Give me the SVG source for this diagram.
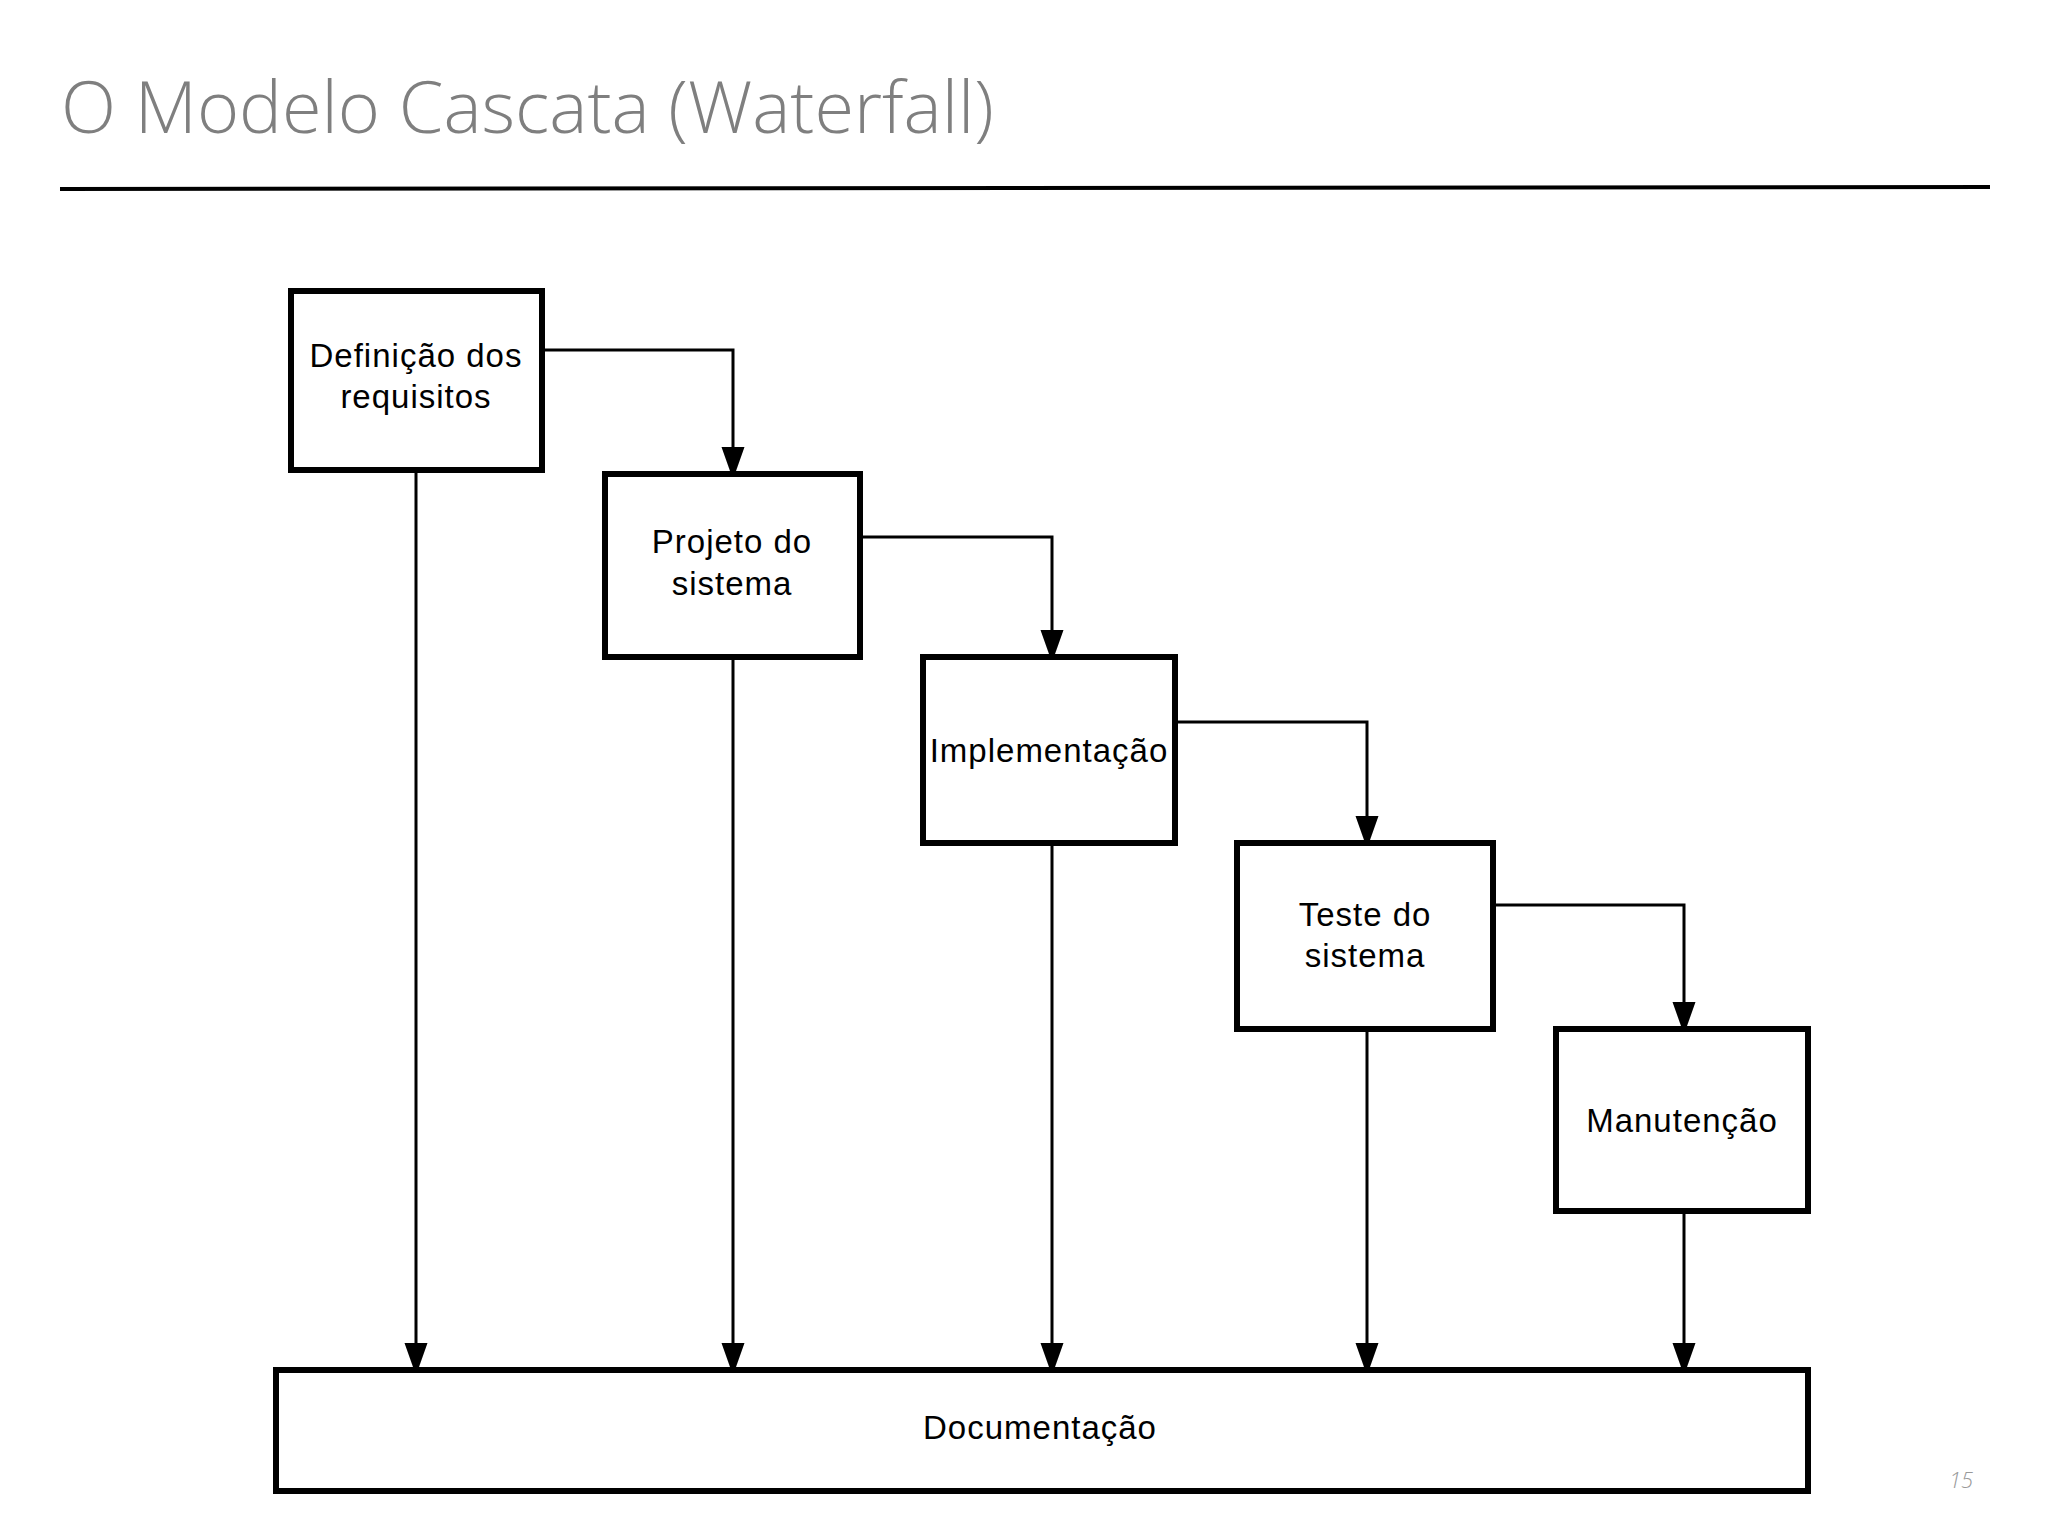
<svg xmlns="http://www.w3.org/2000/svg" width="2048" height="1536" viewBox="0 0 2048 1536">
  <defs>
    <marker id="arrow" markerUnits="userSpaceOnUse" markerWidth="26" markerHeight="26" viewBox="0 -13 26 26" refX="24" refY="0" orient="auto">
      <path d="M0,-11.5 L24,-3 L24,3 L0,11.5 Z" fill="#000"/>
    </marker>
    <style>
      .box { fill: #fff; stroke: #000; stroke-width: 6; }
      .lbl { font-family: "Liberation Sans", Arial, sans-serif; font-size: 33px; letter-spacing: 1px; fill: #000; text-anchor: middle; }
      .conn { fill: none; stroke: #000; stroke-width: 3; marker-end: url(#arrow); }
      .title { font-family: "Open Sans", "Liberation Sans", sans-serif; font-weight: 300; font-size: 72px; fill: #7f7f7f; }
      .pgnum { font-family: "Open Sans", "Liberation Sans", sans-serif; font-weight: 300; font-style: italic; font-size: 22px; fill: #999; }
    </style>
  </defs>
  <rect x="0" y="0" width="2048" height="1536" fill="#fff"/>

  <g id="header">
    <text class="title" x="61" y="133">O Modelo Cascata (Waterfall)</text>
    <line x1="60" y1="189" x2="1990" y2="187" stroke="#000" stroke-width="4"/>
  </g>

  <g id="connectors">
    <path class="conn" d="M545,350 H733 V471"/>
    <path class="conn" d="M863,537 H1052 V654"/>
    <path class="conn" d="M1178,722 H1367 V840"/>
    <path class="conn" d="M1496,905 H1684 V1026"/>
    <path class="conn" d="M416,473 V1367"/>
    <path class="conn" d="M733,660 V1367"/>
    <path class="conn" d="M1052,846 V1367"/>
    <path class="conn" d="M1367,1032 V1367"/>
    <path class="conn" d="M1684,1214 V1367"/>
  </g>

  <g id="node-requisitos">
    <rect class="box" x="291" y="291" width="251" height="179"/>
    <text class="lbl" x="416" y="367">Definição dos</text>
    <text class="lbl" x="416" y="408">requisitos</text>
  </g>

  <g id="node-projeto">
    <rect class="box" x="605" y="474" width="255" height="183"/>
    <text class="lbl" x="732" y="553">Projeto do</text>
    <text class="lbl" x="732" y="595">sistema</text>
  </g>

  <g id="node-implementacao">
    <rect class="box" x="923" y="657" width="252" height="186"/>
    <text class="lbl" x="1049" y="762">Implementação</text>
  </g>

  <g id="node-teste">
    <rect class="box" x="1237" y="843" width="256" height="186"/>
    <text class="lbl" x="1365" y="926">Teste do</text>
    <text class="lbl" x="1365" y="967">sistema</text>
  </g>

  <g id="node-manutencao">
    <rect class="box" x="1556" y="1029" width="252" height="182"/>
    <text class="lbl" x="1682" y="1132">Manutenção</text>
  </g>

  <g id="node-documentacao">
    <rect class="box" x="276" y="1370" width="1532" height="121"/>
    <text class="lbl" x="1040" y="1439">Documentação</text>
  </g>

  <g id="footer">
    <text class="pgnum" x="1949" y="1488">15</text>
  </g>
</svg>
